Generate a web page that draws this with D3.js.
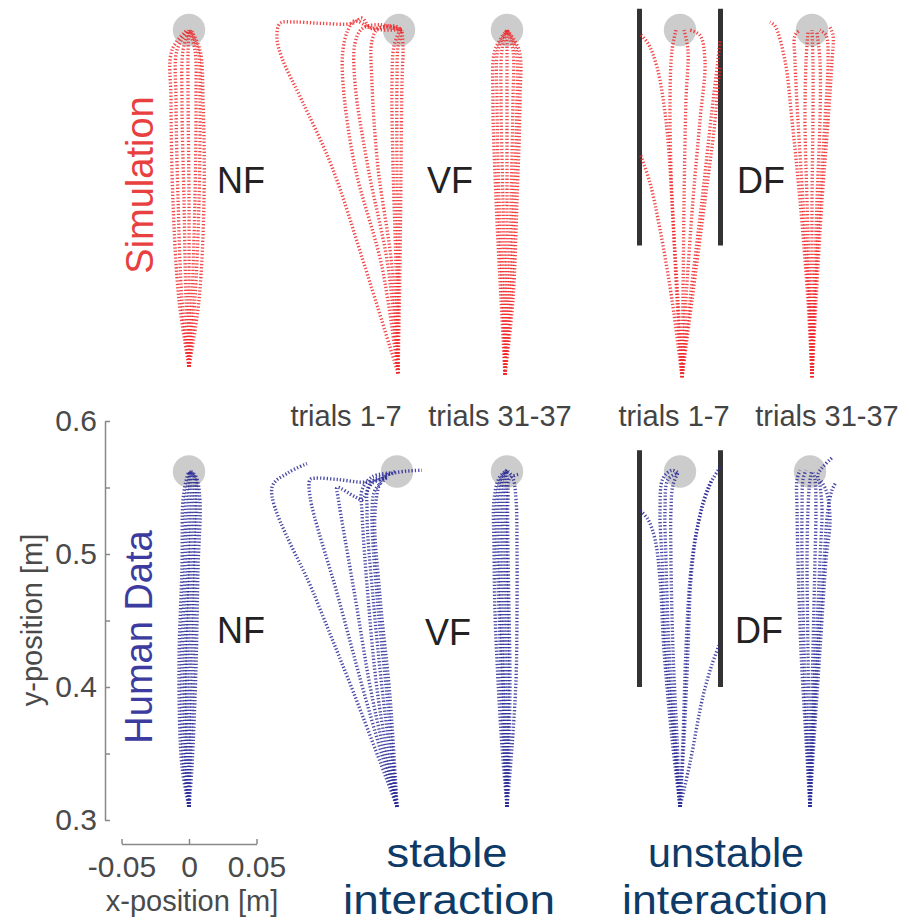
<!DOCTYPE html>
<html>
<head>
<meta charset="utf-8">
<script src="https://cdn.jsdelivr.net/npm/d3@7"></script>
<style>
body { margin: 0; background: #fff; }
svg text { font-family: "Liberation Sans", Arial, sans-serif; }
</style>
</head>
<body>
<div class="interactive"></div>
<script>
var width = 909;
var height = 923;

// axis ticks (metres)
var yTicks = [0.3, 0.35, 0.4, 0.45, 0.5, 0.55, 0.6];
var yTickLabels = [0.3, 0.4, 0.5, 0.6];
var xTicks = [-0.05, 0, 0.05];

// target and divergent-field walls (metres, x relative to panel)
var target = [0, 0.562];
var targetR = 0.012;
var wallX = [-0.030, 0.030];
var wallY = [0.40, 0.578];

// trajectories: [x, y] in metres, x relative to each panel's centre
var simNF = [
  [[0,0.309],[-0.0074,0.359],[-0.0119,0.434],[-0.0133,0.509],[-0.0126,0.547],[-0.0015,0.562]],
  [[0,0.309],[-0.0052,0.359],[-0.0081,0.434],[-0.0096,0.509],[-0.0089,0.547],[-0.0007,0.562]],
  [[0,0.309],[-0.0022,0.359],[-0.0037,0.434],[-0.0052,0.509],[-0.0044,0.547],[0,0.562]],
  [[0,0.309],[0,0.359],[0,0.434],[-0.0007,0.509],[-0.0007,0.547],[0,0.562]],
  [[0,0.309],[0.0022,0.359],[0.0044,0.434],[0.0052,0.509],[0.0044,0.547],[0,0.562]],
  [[0,0.309],[0.0044,0.359],[0.0074,0.434],[0.0081,0.509],[0.0067,0.547],[0.0007,0.562]],
  [[0,0.309],[0.0074,0.359],[0.0111,0.434],[0.0104,0.509],[0.0081,0.547],[0.0015,0.562]]
];
var simVF1 = [
  [[-0.0007,0.304],[-0.0252,0.384],[-0.0496,0.459],[-0.0719,0.509],[-0.0867,0.541],[-0.0904,0.556],[-0.0881,0.567],
   [-0.0770,0.568],[-0.0570,0.567],[-0.0348,0.567],[-0.0274,0.571],[-0.0215,0.564],[-0.0081,0.564],[0.0022,0.562]],
  [[-0.0007,0.304],[-0.0126,0.384],[-0.0326,0.459],[-0.0415,0.522],[-0.0415,0.547],[-0.0378,0.562],[-0.0326,0.569],[-0.0200,0.563],[0.0022,0.562]],
  [[-0.0007,0.304],[-0.0081,0.384],[-0.0230,0.459],[-0.0326,0.522],[-0.0326,0.552],[-0.0274,0.563],[-0.0141,0.566],[0.0022,0.562]],
  [[-0.0007,0.304],[-0.0052,0.384],[-0.0156,0.459],[-0.0200,0.522],[-0.0200,0.554],[-0.0156,0.563],[-0.0030,0.565],[0.0022,0.562]],
  [[-0.0007,0.304],[-0.0022,0.384],[-0.0044,0.459],[-0.0052,0.522],[-0.0037,0.550],[0.0007,0.562]],
  [[-0.0007,0.304],[-0.0007,0.384],[-0.0015,0.459],[-0.0015,0.522],[-0.0007,0.550],[0.0022,0.562]],
  [[-0.0007,0.304],[0.0007,0.384],[0.0015,0.459],[0.0022,0.522],[0.0030,0.550],[0.0022,0.562]]
];
var simVF2 = [
  [[-0.0015,0.303],[-0.0044,0.359],[-0.0081,0.434],[-0.0104,0.509],[-0.0089,0.547],[0,0.562]],
  [[-0.0015,0.303],[-0.0030,0.359],[-0.0059,0.434],[-0.0074,0.509],[-0.0067,0.547],[0,0.562]],
  [[-0.0015,0.303],[-0.0015,0.359],[-0.0030,0.434],[-0.0044,0.509],[-0.0037,0.547],[0,0.562]],
  [[-0.0015,0.303],[0,0.359],[0,0.434],[0,0.509],[0,0.547],[0,0.562]],
  [[-0.0015,0.303],[0.0015,0.359],[0.0030,0.434],[0.0044,0.509],[0.0044,0.547],[0,0.562]],
  [[-0.0015,0.303],[0.0030,0.359],[0.0052,0.434],[0.0074,0.509],[0.0067,0.547],[0,0.562]],
  [[-0.0015,0.303],[0.0044,0.359],[0.0074,0.434],[0.0096,0.509],[0.0089,0.547],[0,0.562]]
];
var simDF1 = [
  [[0.0015,0.301],[-0.0059,0.359],[-0.0148,0.412],[-0.0222,0.447],[-0.0296,0.469]],
  [[0.0015,0.301],[-0.0022,0.359],[-0.0059,0.434],[-0.0104,0.494],[-0.0170,0.534],[-0.0237,0.552],[-0.0296,0.559]],
  [[0.0015,0.301],[-0.0015,0.359],[-0.0059,0.434],[-0.0074,0.509],[-0.0059,0.547],[-0.0030,0.562]],
  [[0.0015,0.301],[0.0022,0.359],[0.0030,0.434],[0.0044,0.509],[0.0059,0.547],[0.0030,0.562]],
  [[0.0015,0.301],[0.0044,0.359],[0.0096,0.434],[0.0148,0.494],[0.0185,0.539],[0.0148,0.558],[0.0074,0.562]],
  [[0.0015,0.301],[0.0074,0.359],[0.0163,0.434],[0.0237,0.502],[0.0281,0.539],[0.0296,0.554]],
  [[0.0015,0.301],[0.0089,0.359],[0.0185,0.434],[0.0252,0.487],[0.0285,0.524],[0.0296,0.534]]
];
var simDF2 = [
  [[0,0.301],[-0.0030,0.359],[-0.0089,0.434],[-0.0148,0.494],[-0.0200,0.539],[-0.0274,0.565],[-0.0311,0.568]],
  [[0,0.301],[-0.0022,0.359],[-0.0067,0.434],[-0.0104,0.494],[-0.0126,0.539],[-0.0126,0.558],[-0.0089,0.562]],
  [[0,0.301],[-0.0015,0.359],[-0.0037,0.434],[-0.0052,0.494],[-0.0044,0.539],[-0.0030,0.560]],
  [[0,0.301],[0,0.359],[0,0.434],[0.0007,0.494],[0.0007,0.539],[0,0.562]],
  [[0,0.301],[0.0015,0.359],[0.0037,0.434],[0.0059,0.494],[0.0059,0.539],[0.0037,0.560]],
  [[0,0.301],[0.0022,0.359],[0.0059,0.434],[0.0096,0.494],[0.0119,0.539],[0.0104,0.558],[0.0059,0.562]],
  [[0,0.301],[0.0030,0.359],[0.0074,0.434],[0.0119,0.494],[0.0148,0.539],[0.0156,0.558],[0.0133,0.564]]
];

var humNF = [
  [[0,0.310],[-0.0052,0.340],[-0.0074,0.415],[-0.0052,0.490],[-0.0044,0.541],[-0.0015,0.558],[0,0.562]],
  [[0,0.310],[-0.0037,0.340],[-0.0052,0.415],[-0.0030,0.490],[-0.0022,0.541],[0,0.558],[0,0.562]],
  [[0,0.310],[-0.0022,0.340],[-0.0030,0.415],[-0.0007,0.490],[0,0.541],[0.0007,0.558],[0,0.562]],
  [[0,0.310],[-0.0015,0.340],[-0.0015,0.415],[0.0007,0.490],[0.0022,0.541],[0.0022,0.558],[0,0.562]],
  [[0,0.310],[0,0.340],[0.0007,0.415],[0.0030,0.490],[0.0044,0.541],[0.0037,0.558],[0,0.562]],
  [[0,0.310],[0.0007,0.340],[0.0030,0.415],[0.0044,0.490],[0.0059,0.541],[0.0044,0.558],[0.0007,0.562]],
  [[0,0.310],[0.0022,0.340],[0.0052,0.415],[0.0067,0.490],[0.0081,0.541],[0.0052,0.558],[0.0015,0.562]]
];
var humVF1 = [
  [[0,0.310],[-0.0311,0.393],[-0.0607,0.468],[-0.0926,0.550],[-0.0807,0.561],[-0.0667,0.568]],
  [[0,0.310],[-0.0237,0.393],[-0.0437,0.468],[-0.0644,0.543],[-0.0644,0.556],[-0.0607,0.557],[-0.0437,0.556],[-0.0237,0.554],[-0.0067,0.558]],
  [[0,0.310],[-0.0185,0.393],[-0.0311,0.468],[-0.0437,0.543],[-0.0444,0.550],[-0.0311,0.543],[-0.0259,0.541],[-0.0185,0.553],[-0.0067,0.558]],
  [[0,0.310],[-0.0141,0.393],[-0.0215,0.468],[-0.0259,0.531],[-0.0259,0.548],[-0.0185,0.558],[-0.0037,0.561]],
  [[0,0.310],[-0.0104,0.393],[-0.0178,0.468],[-0.0222,0.531],[-0.0200,0.553],[-0.0015,0.561],[0.0185,0.563]],
  [[0,0.310],[-0.0074,0.393],[-0.0148,0.468],[-0.0185,0.531],[-0.0163,0.548],[-0.0067,0.558]],
  [[0,0.310],[-0.0052,0.393],[-0.0126,0.468],[-0.0163,0.531],[-0.0111,0.556],[-0.0015,0.562]]
];
var humVF2 = [
  [[0,0.310],[-0.0037,0.355],[-0.0067,0.406],[-0.0089,0.456],[-0.0096,0.505],[-0.0096,0.541],[-0.0059,0.557],[0,0.563]],
  [[0,0.310],[-0.0022,0.355],[-0.0044,0.406],[-0.0059,0.456],[-0.0074,0.505],[-0.0074,0.541],[-0.0044,0.557],[0,0.563]],
  [[0,0.310],[-0.0015,0.355],[-0.0030,0.406],[-0.0044,0.456],[-0.0052,0.505],[-0.0052,0.541],[-0.0030,0.557],[0,0.563]],
  [[0,0.310],[0,0.355],[-0.0015,0.406],[-0.0022,0.456],[-0.0030,0.505],[-0.0030,0.541],[-0.0015,0.557],[0,0.563]],
  [[0,0.310],[0.0007,0.355],[0.0007,0.406],[0,0.456],[-0.0007,0.505],[-0.0007,0.541],[0,0.557],[0,0.563]],
  [[0,0.310],[0.0015,0.355],[0.0022,0.406],[0.0015,0.456],[0.0007,0.505],[0.0007,0.541],[0.0022,0.557],[0.0089,0.560]],
  [[0,0.310],[0.0037,0.355],[0.0067,0.406],[0.0074,0.456],[0.0074,0.505],[0.0067,0.541],[0.0044,0.557],[0,0.563]]
];
var humDF1 = [
  [[0,0.310],[-0.0059,0.361],[-0.0119,0.428],[-0.0148,0.481],[-0.0185,0.511],[-0.0237,0.526],[-0.0296,0.533]],
  [[0,0.310],[-0.0044,0.361],[-0.0104,0.428],[-0.0133,0.496],[-0.0148,0.533],[-0.0126,0.557],[-0.0059,0.563],[-0.0015,0.561]],
  [[0,0.310],[-0.0037,0.361],[-0.0081,0.428],[-0.0104,0.496],[-0.0111,0.533],[-0.0089,0.556],[-0.0015,0.561]],
  [[0,0.310],[-0.0022,0.361],[-0.0052,0.428],[-0.0067,0.496],[-0.0067,0.533],[-0.0052,0.552],[-0.0015,0.561]],
  [[0,0.310],[0.0030,0.361],[0.0059,0.428],[0.0081,0.481],[0.0126,0.518],[0.0200,0.548],[0.0296,0.565]],
  [[0,0.310],[0.0022,0.361],[0.0044,0.428],[0.0074,0.481],[0.0111,0.511],[0.0170,0.537],[0.0237,0.556]],
  [[0,0.310],[0.0074,0.343],[0.0170,0.393],[0.0237,0.417],[0.0296,0.433]]
];
var humDF2 = [
  [[0,0.310],[-0.0030,0.361],[-0.0067,0.428],[-0.0089,0.496],[-0.0096,0.533],[-0.0096,0.556],[-0.0074,0.563]],
  [[0,0.310],[-0.0022,0.361],[-0.0044,0.428],[-0.0059,0.496],[-0.0059,0.533],[-0.0052,0.556],[-0.0030,0.563]],
  [[0,0.310],[-0.0007,0.361],[-0.0015,0.428],[-0.0022,0.496],[-0.0015,0.533],[0,0.556],[0.0015,0.563]],
  [[0,0.310],[0.0007,0.361],[0.0022,0.428],[0.0037,0.496],[0.0044,0.533],[0.0037,0.556],[0.0022,0.561]],
  [[0,0.310],[0.0015,0.361],[0.0044,0.428],[0.0074,0.496],[0.0089,0.533],[0.0074,0.552],[0.0059,0.560],[0.0170,0.573]],
  [[0,0.310],[0.0022,0.361],[0.0059,0.428],[0.0104,0.496],[0.0133,0.533],[0.0163,0.548],[0.0193,0.554]],
  [[0,0.310],[0.0030,0.361],[0.0074,0.428],[0.0119,0.496],[0.0148,0.526],[0.0119,0.548],[0.0074,0.556]]
];

// layout
var simColor = "#f0282a";
var humColor = "#2a2a96";

var svg = d3.select( ".interactive" )
    .append( "svg" )
    .attr( "width", width )
    .attr( "height", height );

// NF panel scales; other panels are shifted copies
var x = d3.scaleLinear().domain( [-0.05, 0.05] ).range( [121.5, 256.5] );
var yBot = d3.scaleLinear().domain( [0.3, 0.6] ).range( [820, 421] );
var yTop = d3.scaleLinear().domain( [0.3, 0.6] ).range( [378.5, -20.5] );

var panels = [
  { data: simNF,  y: yTop, shift: 0,   color: simColor, walls: false },
  { data: simVF1, y: yTop, shift: 210, color: simColor, walls: false },
  { data: simVF2, y: yTop, shift: 318, color: simColor, walls: false },
  { data: simDF1, y: yTop, shift: 491, color: simColor, walls: true },
  { data: simDF2, y: yTop, shift: 623, color: simColor, walls: false },
  { data: humNF,  y: yBot, shift: 0,   color: humColor, walls: false },
  { data: humVF1, y: yBot, shift: 208, color: humColor, walls: false },
  { data: humVF2, y: yBot, shift: 318, color: humColor, walls: false },
  { data: humDF1, y: yBot, shift: 491, color: humColor, walls: true },
  { data: humDF2, y: yBot, shift: 621, color: humColor, walls: false }
];

panels.forEach( function( p ) {
  var g = svg.append( "g" )
      .attr( "transform", "translate(" + p.shift + ",0)" );

  if ( p.walls ) {
    g.selectAll( "line.wall" )
        .data( wallX )
        .enter()
        .append( "line" )
        .attr( "class", "wall" )
        .attr( "x1", function( d ) { return x( d ); } )
        .attr( "x2", function( d ) { return x( d ); } )
        .attr( "y1", p.y( wallY[0] ) )
        .attr( "y2", p.y( wallY[1] ) )
        .attr( "stroke", "#333" )
        .attr( "stroke-width", 5 );
  }

  g.append( "circle" )
      .attr( "cx", x( target[0] ) )
      .attr( "cy", p.y( target[1] ) )
      .attr( "r", x( targetR ) - x( 0 ) )
      .attr( "fill", "#999" )
      .attr( "opacity", 0.5 );

  var line = d3.line()
      .x( function( d ) { return x( d[0] ); } )
      .y( function( d ) { return p.y( d[1] ); } )
      .curve( d3.curveCatmullRom.alpha( 0.5 ) );

  g.selectAll( "path.traj" )
      .data( p.data )
      .enter()
      .append( "path" )
      .attr( "class", "traj" )
      .attr( "d", line )
      .attr( "fill", "none" )
      .attr( "stroke", p.color )
      .attr( "stroke-width", 3.4 )
      .attr( "stroke-dasharray", "1.3 2" )
      .attr( "opacity", 0.85 );
} );

// axes (bottom-left panel only)
var yAxis = d3.axisLeft( yBot )
    .tickValues( yTicks )
    .tickSize( -5 )
    .tickSizeOuter( 0 )
    .tickPadding( 8 )
    .tickFormat( function( d ) { return yTickLabels.indexOf( d ) >= 0 ? d.toFixed( 1 ) : ""; } );

var gy = svg.append( "g" )
    .attr( "transform", "translate(105,0)" )
    .call( yAxis );

var xAxis = d3.axisBottom( x )
    .tickValues( xTicks )
    .tickSize( -5 )
    .tickSizeOuter( 0 )
    .tickPadding( 12 )
    .tickFormat( function( d ) { return String( d ); } );

var gx = svg.append( "g" )
    .attr( "transform", "translate(0,844)" )
    .call( xAxis );

[gy, gx].forEach( function( a ) {
  a.attr( "font-size", 30 ).attr( "font-family", "Liberation Sans, Arial, sans-serif" );
  a.select( ".domain" ).attr( "stroke", "#888" ).attr( "stroke-width", 1.5 );
  a.selectAll( ".tick line" ).attr( "stroke", "#888" ).attr( "stroke-width", 1.5 );
  a.selectAll( ".tick text" ).attr( "fill", "#4a4a4a" );
} );

svg.append( "text" )
    .attr( "transform", "translate(42,620) rotate(-90)" )
    .attr( "text-anchor", "middle" )
    .attr( "font-size", 29 )
    .attr( "fill", "#4a4a4a" )
    .text( "y-position [m]" );

svg.append( "text" )
    .attr( "x", 192 )
    .attr( "y", 911 )
    .attr( "text-anchor", "middle" )
    .attr( "font-size", 29 )
    .attr( "fill", "#4a4a4a" )
    .text( "x-position [m]" );

// row labels
svg.append( "text" )
    .attr( "transform", "translate(153,185) rotate(-90)" )
    .attr( "text-anchor", "middle" )
    .attr( "font-size", 38 )
    .attr( "fill", "#e8403f" )
    .text( "Simulation" );

svg.append( "text" )
    .attr( "transform", "translate(152,637) rotate(-90)" )
    .attr( "text-anchor", "middle" )
    .attr( "font-size", 38 )
    .attr( "fill", "#3c3ca0" )
    .text( "Human Data" );

// field labels
var fieldLabels = [
  { t: "NF", x: 217, y: 193 }, { t: "VF", x: 427, y: 193 }, { t: "DF", x: 737, y: 193 },
  { t: "NF", x: 217, y: 643 }, { t: "VF", x: 425, y: 645 }, { t: "DF", x: 735, y: 643 }
];
svg.selectAll( "text.field" )
    .data( fieldLabels )
    .enter()
    .append( "text" )
    .attr( "class", "field" )
    .attr( "x", function( d ) { return d.x; } )
    .attr( "y", function( d ) { return d.y; } )
    .attr( "font-size", 36 )
    .attr( "fill", "#222" )
    .text( function( d ) { return d.t; } );

var trialLabels = [
  { t: "trials 1-7", x: 346 }, { t: "trials 31-37", x: 500 },
  { t: "trials 1-7", x: 674 }, { t: "trials 31-37", x: 827 }
];
svg.selectAll( "text.trials" )
    .data( trialLabels )
    .enter()
    .append( "text" )
    .attr( "class", "trials" )
    .attr( "x", function( d ) { return d.x; } )
    .attr( "y", 426 )
    .attr( "text-anchor", "middle" )
    .attr( "font-size", 29 )
    .attr( "fill", "#444" )
    .text( function( d ) { return d.t; } );

// two-line captions under the VF and DF columns
var stabilityLabels = [
  { t: "stable", x: 447, y: 867, w: 121 }, { t: "interaction", x: 449, y: 914, w: 212 },
  { t: "unstable", x: 726, y: 867, w: 156 }, { t: "interaction", x: 725, y: 914, w: 206 }
];
svg.selectAll( "text.stab" )
    .data( stabilityLabels )
    .enter()
    .append( "text" )
    .attr( "class", "stab" )
    .attr( "x", function( d ) { return d.x; } )
    .attr( "y", function( d ) { return d.y; } )
    .attr( "text-anchor", "middle" )
    .attr( "font-size", 40 )
    .attr( "textLength", function( d ) { return d.w; } )
    .attr( "lengthAdjust", "spacingAndGlyphs" )
    .attr( "fill", "#0d3a66" )
    .text( function( d ) { return d.t; } );
</script>
</body>
</html>
